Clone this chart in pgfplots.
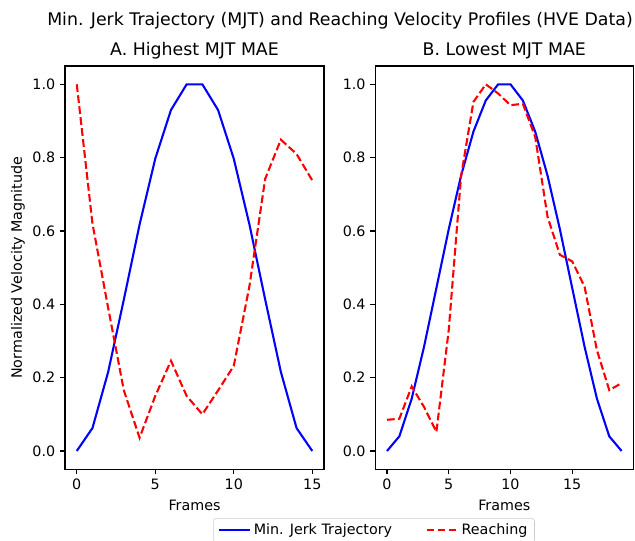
\documentclass[border=0pt]{standalone}
\usepackage{fontspec}
\setmainfont{DejaVu Sans}
\usepackage{pgfplots}
\pgfplotsset{compat=1.18}
\pgfplotstableread{
x mjt reach
0 0 1.0
1 0.0625 0.62
2 0.2156 0.39
3 0.4133 0.165
4 0.6174 0.036
5 0.7972 0.15
6 0.9299 0.246
7 1 0.15
8 1 0.10
9 0.9299 0.165
10 0.7972 0.232
11 0.6174 0.45
12 0.4133 0.742
13 0.2156 0.849
14 0.0625 0.81
15 0 0.738
}\tableA
\pgfplotstableread{
x mjt reach
0 0 0.085
1 0.0400 0.088
2 0.1427 0.176
3 0.2844 0.12
4 0.4444 0.052
5 0.6049 0.33
6 0.7511 0.75
7 0.8711 0.952
8 0.9560 1.0
9 1 0.975
10 1 0.943
11 0.9560 0.947
12 0.8711 0.857
13 0.7511 0.639
14 0.6049 0.535
15 0.4444 0.517
16 0.2844 0.448
17 0.1427 0.275
18 0.0400 0.166
19 0 0.185
}\tableB
\pgfplotsset{
  mystyle/.style={
    scale only axis,
    width=186.5pt, height=290.4pt,
    anchor=south west,
    axis line style={line width=0.8pt, black},
    tick style={line width=0.8pt, black},
    major tick length=3.5pt,
    tick align=outside,
    xtick pos=bottom, ytick pos=left,
    ymin=-0.05, ymax=1.05,
    ytick={0,0.2,0.4,0.6,0.8,1.0},
    yticklabel style={/pgf/number format/.cd, fixed, fixed zerofill, precision=1},
    /pgf/number format/assume math mode=true,
    ticklabel style={font=\fontsize{10.3}{12}\selectfont},
    label style={font=\fontsize{10.3}{12}\selectfont},
    every axis title shift=0pt,
    title style={font=\fontsize{12.5}{14}\selectfont, at={(0.5,1)}, anchor=base, yshift=7.2pt, inner sep=0pt},
    xlabel={Frames},
    xlabel style={at={(axis description cs:0.5,-0.0893)}, anchor=center},
    xtick={0,5,10,15},
    legend image code/.code={\draw[##1] (0pt,0pt) -- (22.5pt,0pt);},
  },
  mjt/.style={blue, line width=1.5pt},
  reach/.style={red, line width=1.5pt, dash pattern=on 5.55pt off 2.4pt},
}
\begin{document}
\begin{tikzpicture}
\path[use as bounding box, clip] (0,0) rectangle (457.2pt,388.8pt);
\node[anchor=base, font=\fontsize{12.5}{14}\selectfont, inner sep=0pt] at (244.8pt,370.1pt) {Min. Jerk Trajectory (MJT) and Reaching Velocity Profiles (HVE Data)};
\begin{axis}[mystyle, at={(46.8pt,50.9pt)},
  xmin=-0.75, xmax=15.75,
  title={A. Highest MJT MAE},
  ylabel={Normalized Velocity Magnitude},
  ylabel style={at={(axis description cs:-0.1815,0.5)}, anchor=center},
  legend columns=2,
  legend style={at={(axis description cs:1.193,-0.121)}, anchor=north,
    draw=black!20, rounded corners=2pt, fill=white,
    font=\fontsize{10.3}{12}\selectfont,
    /tikz/every even column/.append style={column sep=22pt}},
]
\addplot[mjt] table[x=x, y=mjt] {\tableA};
\addlegendentry{Min. Jerk Trajectory}
\addplot[reach] table[x=x, y=reach] {\tableA};
\addlegendentry{Reaching}
\end{axis}
\begin{axis}[mystyle, at={(270.2pt,50.9pt)}, width=185.8pt,
  xmin=-0.95, xmax=19.95,
  title={B. Lowest MJT MAE},
]
\addplot[mjt] table[x=x, y=mjt] {\tableB};
\addplot[reach] table[x=x, y=reach] {\tableB};
\end{axis}
\end{tikzpicture}
\end{document}
